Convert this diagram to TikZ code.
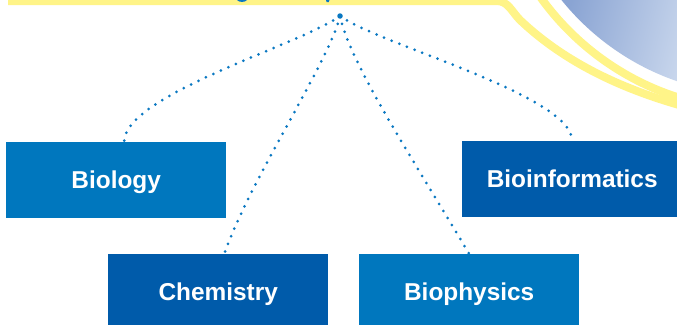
\documentclass[tikz,border=0pt]{standalone}
\usepackage{fontspec}
\setmainfont{Liberation Sans}
\definecolor{boxlight}{HTML}{0077BE}
\definecolor{boxdark}{HTML}{005BAA}
\definecolor{dotblue}{HTML}{0A78C2}
\definecolor{ribbon}{HTML}{FFF488}
\definecolor{skyA}{HTML}{8AA4D3}
\definecolor{skyB}{HTML}{DDE7F5}
\begin{document}
\begin{tikzpicture}[x=1pt,y=-1pt,
  box/.style={minimum width=220pt, minimum height=76pt, inner sep=0pt, anchor=north west,
    text height=17.5pt, text depth=0pt,
    text=white, font=\fontsize{24.4}{28}\selectfont\bfseries},
  lightbox/.style={box, fill=boxlight},
  darkbox/.style={box, fill=boxdark},
  dotline/.style={draw=dotblue, line width=3pt, line cap=round, dash pattern=on 0pt off 8.2pt},
  stripe/.style={draw=ribbon, line width=8pt},
  hubdot/.style={circle, fill=dotblue, inner sep=0pt, minimum size=5.5pt}]
\useasboundingbox (0,0) rectangle (677,324);
\clip (0,0) rectangle (677,324);
\fill[white] (0,0) rectangle (677,324);
% blue disc at the top right
\begin{scope}
  \clip (760,-160) circle[radius=255pt];
  \shade[top color=skyA, bottom color=skyB, shading angle=75] (560,-30) rectangle (730,110);
\end{scope}
% yellow ribbons
\draw[stripe] (760,-160) circle[radius=270pt];
\draw[stripe] (8,1) -- (497,1) .. controls (508,1) and (512,12) .. (520,20)
  .. controls (560,58) and (615,88) .. (690,108);
% cut-off bits of the title
\fill[dotblue] (237,0) .. controls (239,2.6) and (245,2.6) .. (247,0) -- cycle;
\fill[dotblue] (326,0) -- (329.5,0) -- (328.8,2) -- (326.6,2) -- cycle;
% boxes
\node[lightbox] (biology) at (6,142) {Biology};
\node[darkbox] (bioinformatics) at (462,141) {Bioinformatics};
\node[darkbox] (chemistry) at (108,254) {Chemistry};
\node[lightbox] (biophysics) at (359,254) {Biophysics};
% hub and dotted connectors
\node[hubdot] (hub) at (340,16) {};
\draw[dotline] (hub.center) .. controls (300,45) and (124,95) .. ([xshift=8pt]biology.north);
\draw[dotline] (hub.center) .. controls (330,60) and (250,180) .. ([xshift=6pt]chemistry.north);
\draw[dotline] (hub.center) .. controls (350,65) and (420,170) .. (biophysics.north);
\draw[dotline] (hub.center) .. controls (380,45) and (572,95) .. (bioinformatics.north);
\end{tikzpicture}
\end{document}
